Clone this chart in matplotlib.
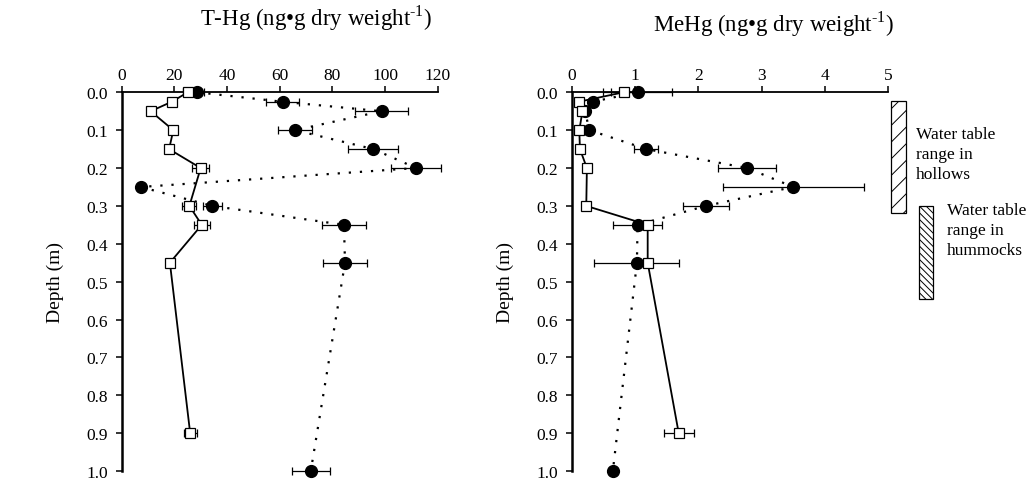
import matplotlib
matplotlib.use("Agg")
import matplotlib.pyplot as plt
from matplotlib.patches import Rectangle

plt.rcParams['font.family'] = ['Liberation Serif', 'DejaVu Serif']
plt.rcParams['mathtext.fontset'] = 'custom'
plt.rcParams['mathtext.rm'] = 'Liberation Serif'
plt.rcParams['hatch.linewidth'] = 0.7

# ---- data ----
circ_depth = [0.0, 0.025, 0.05, 0.1, 0.15, 0.2, 0.25, 0.3, 0.35, 0.45, 1.0]
sq_depth = [0.0, 0.025, 0.05, 0.1, 0.15, 0.2, 0.3, 0.35, 0.45, 0.9]

thg_circ = [28.7, 61.1, 98.7, 65.8, 95.6, 111.8, 7.2, 34.4, 84.4, 84.8, 71.8]
thg_circ_err = [2.5, 6.2, 10.0, 6.5, 9.5, 9.5, 0.0, 3.5, 8.5, 8.5, 7.3]
thg_sq = [25.1, 19.0, 11.0, 19.6, 18.0, 30.0, 25.7, 30.4, 18.3, 26.0]
thg_sq_err = [2.0, 0.0, 0.0, 0.0, 0.0, 3.2, 2.7, 3.0, 0.0, 2.5]

mehg_circ = [1.04, 0.33, 0.21, 0.28, 1.18, 2.77, 3.50, 2.12, 1.04, 1.03, 0.65]
mehg_circ_err = [0.55, 0.0, 0.0, 0.0, 0.19, 0.46, 1.11, 0.37, 0.39, 0.67, 0.0]
mehg_sq = [0.82, 0.11, 0.17, 0.12, 0.13, 0.24, 0.23, 1.20, 1.20, 1.69]
mehg_sq_err = [0.2, 0.0, 0.0, 0.0, 0.0, 0.0, 0.0, 0.0, 0.0, 0.24]

hollows_range = [0.022, 0.32]
hummocks_range = [0.30, 0.545]

depth_ticks = [0.0, 0.1, 0.2, 0.3, 0.4, 0.5, 0.6, 0.7, 0.8, 0.9, 1.0]
thg_ticks = [0, 20, 40, 60, 80, 100, 120]
mehg_ticks = [0, 1, 2, 3, 4, 5]

W, H = 1028, 481
fig = plt.figure(figsize=(W / 100, H / 100), dpi=100)

def px_axes(x0, x1, y0, y1):
    return fig.add_axes([x0 / W, (H - y1) / H, (x1 - x0) / W, (y1 - y0) / H])

axL = px_axes(121.7, 437.7, 93.3, 472.0)
axR = px_axes(571.7, 888.3, 93.3, 472.0)

def style(ax, xticks, xlim):
    ax.set_xlim(*xlim)
    ax.set_ylim(1.0, 0.0)
    ax.xaxis.tick_top()
    ax.set_xticks(xticks)
    ax.set_yticks(depth_ticks)
    ax.set_yticklabels([f"{v:.1f}" for v in depth_ticks])
    for s in ['right', 'bottom']:
        ax.spines[s].set_visible(False)
    ax.spines['left'].set_linewidth(1.8)
    ax.spines['top'].set_linewidth(1.3)
    ax.tick_params(axis='both', direction='out', length=4, width=1.1,
                   labelsize=12.5)
    ax.tick_params(axis='y', pad=6)
    ax.tick_params(axis='x', pad=3)
    ax.set_ylabel("Depth (m)", fontsize=14, labelpad=16)

def draw(ax, cx, cxe, sx, sxe):
    ax.errorbar(cx, circ_depth, xerr=cxe, fmt='none', ecolor='black',
                elinewidth=0.9, capsize=3, capthick=0.9, zorder=2, clip_on=False)
    ax.errorbar(sx, sq_depth, xerr=sxe, fmt='none', ecolor='black',
                elinewidth=0.9, capsize=3, capthick=0.9, zorder=2, clip_on=False)
    ax.plot(cx, circ_depth, linestyle=(0, (1, 4)), color='black', lw=1.6,
            marker='o', ms=8.5, mfc='black', mec='black', zorder=3, clip_on=False)
    ax.plot(sx, sq_depth, linestyle='-', color='black', lw=1.3,
            marker='s', ms=7.5, mfc='white', mec='black', mew=0.9, zorder=4,
            clip_on=False)

style(axL, thg_ticks, (0, 120))
style(axR, mehg_ticks, (0, 5))
draw(axL, thg_circ, thg_circ_err, thg_sq, thg_sq_err)
draw(axR, mehg_circ, mehg_circ_err, mehg_sq, mehg_sq_err)

# water-table range boxes (outside right axes)
r1 = Rectangle((5.05, hollows_range[0]), 0.225, hollows_range[1] - hollows_range[0],
               facecolor='white', edgecolor='black', lw=0.9, hatch='//',
               clip_on=False, zorder=5)
r2 = Rectangle((5.48, hummocks_range[0]), 0.225, hummocks_range[1] - hummocks_range[0],
               facecolor='white', edgecolor='black', lw=0.9, hatch='\\\\\\\\\\',
               clip_on=False, zorder=5)
axR.add_patch(r1)
axR.add_patch(r2)
axR.text(5.44, 0.09, "Water table\nrange in\nhollows", fontsize=12.5,
         va='top', ha='left', linespacing=1.32, clip_on=False)
axR.text(5.92, 0.29, "Water table\nrange in\nhummocks", fontsize=12.5,
         va='top', ha='left', linespacing=1.32, clip_on=False)

fig.text(316 / W, 1 - 18 / H, "T-Hg (ng\u2022g dry weight$^{\\text{-1}}$)",
         fontsize=16.5, ha='center', va='center')
fig.text(774 / W, 1 - 24 / H, "MeHg (ng\u2022g dry weight$^{\\text{-1}}$)",
         fontsize=16.5, ha='center', va='center')

fig.savefig("out.png", dpi=100)
